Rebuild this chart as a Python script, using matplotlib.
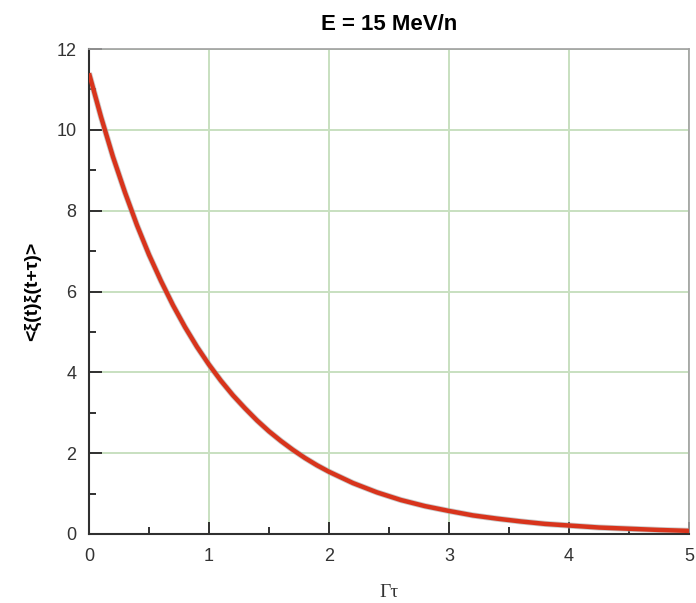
import matplotlib
matplotlib.use("Agg")
import matplotlib.pyplot as plt
from matplotlib.ticker import MultipleLocator

# Correlation function sampled along Γτ
gamma_tau = [0.0, 0.1, 0.2, 0.3, 0.4, 0.5, 0.6, 0.7, 0.8, 0.9, 1.0,
             1.1, 1.2, 1.3, 1.4, 1.5, 1.6, 1.7, 1.8, 1.9, 2.0,
             2.2, 2.4, 2.6, 2.8, 3.0, 3.2, 3.4, 3.6, 3.8, 4.0,
             4.25, 4.5, 4.75, 5.0]
correlation = [11.40, 10.32, 9.33, 8.45, 7.64, 6.91, 6.26, 5.66, 5.12, 4.63, 4.19,
               3.79, 3.43, 3.11, 2.81, 2.54, 2.30, 2.08, 1.88, 1.70, 1.54,
               1.26, 1.03, 0.84, 0.69, 0.57, 0.46, 0.38, 0.31, 0.25, 0.21,
               0.16, 0.13, 0.10, 0.077]

title_text = "E = 15 MeV/n"
x_label = "Γτ"
y_label = "<ξ(t)ξ(t+τ)>"
x_ticks = [0, 1, 2, 3, 4, 5]
y_ticks = [0, 2, 4, 6, 8, 10, 12]

plt.rcParams['font.family'] = ['Liberation Sans', 'DejaVu Sans']

fig = plt.figure(figsize=(6.96, 6.03), dpi=100)
ax = fig.add_axes([89 / 696, 1 - 534 / 603, 600 / 696, 485 / 603])

ax.set_xlim(0, 5)
ax.set_ylim(0, 12)
ax.set_xticks(x_ticks)
ax.set_yticks(y_ticks)
ax.xaxis.set_minor_locator(MultipleLocator(0.5))
ax.yaxis.set_minor_locator(MultipleLocator(1))

ax.grid(True, which='major', color='#c8e0c0', linewidth=1.4, zorder=0)

# grey halo under the red curve
ax.plot(gamma_tau, correlation, color='#a8a8a8', linewidth=4.4, alpha=0.6,
        solid_capstyle='butt', solid_joinstyle='round', zorder=2)
ax.plot(gamma_tau, correlation, color='#d8341c', linewidth=3.2,
        solid_capstyle='butt', solid_joinstyle='round', zorder=3)

for side in ('top', 'right'):
    ax.spines[side].set_color('#a0a0a0')
    ax.spines[side].set_linewidth(1.2)
for side in ('left', 'bottom'):
    ax.spines[side].set_color('#303030')
    ax.spines[side].set_linewidth(1.5)

ax.tick_params(which='both', direction='in', top=False, right=False,
               colors='#303030', labelcolor='#333333', labelsize=13)
ax.tick_params(which='major', length=9, width=1.4)
ax.tick_params(axis='x', which='major', pad=10)
ax.tick_params(axis='y', which='major', pad=9)
ax.tick_params(which='minor', length=5, width=1.4)

ax.set_title(title_text, fontsize=16, fontweight='bold', pad=14)
ax.set_xlabel(x_label, family=['Liberation Serif', 'DejaVu Serif'],
              fontsize=14, labelpad=14, color='#333333')
ax.set_ylabel(y_label, fontsize=14, fontweight='bold', labelpad=11)

fig.savefig("out.png", dpi=100, facecolor='white')
